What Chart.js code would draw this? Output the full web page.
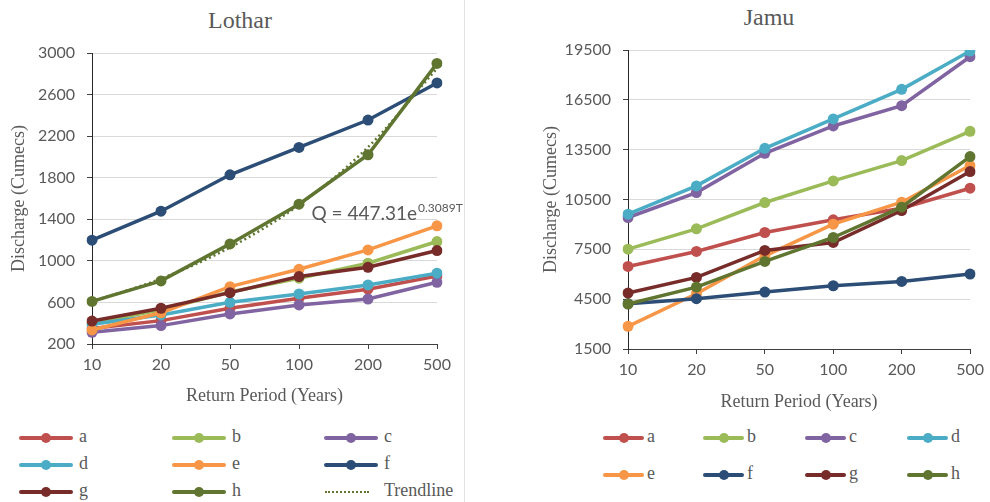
<!DOCTYPE html>
<html lang="en">
<head>
<meta charset="UTF-8">
<title>Discharge vs return period</title>
<style>
    body { margin: 0; background: #fff; }
    #page { position: relative; width: 990px; height: 502px; overflow: hidden; }
    .wrap { position: absolute; top: 0; }
    .ttl { position: absolute; font-family: "Liberation Serif", serif; font-size: 24px; color: #595959; transform: translateX(-50%); white-space: nowrap; }
    .divider { position: absolute; left: 464px; top: 0; width: 1px; height: 502px; background: #e3e3e3; }
    .leg { position: absolute; height: 20px; font-family: "Liberation Serif", serif; font-size: 18px; color: #595959; }
    .leg .ln { position: absolute; top: 8px; height: 4px; border-radius: 2px; }
    .leg .dot { position: absolute; top: 5px; width: 10px; height: 10px; border-radius: 50%; }
    .leg .dash { position: absolute; top: 9px; height: 0; border-top: 2.5px dotted #5f7530; }
    .leg span { position: absolute; top: -2px; white-space: nowrap; }
</style>
</head>
<body>
<div id="page">
    <div class="ttl" style="left:240px; top:7px;">Lothar</div>
    <div class="ttl" style="left:769px; top:4px;">Jamu</div>
    <div class="divider"></div>
    <div class="wrap" style="left:0; width:480px; height:420px;"><canvas id="lothar" width="480" height="420"></canvas></div>
    <div class="wrap" style="left:530px; width:460px; height:420px;"><canvas id="jamu" width="460" height="420"></canvas></div>
    <div id="legend"></div>
</div>

<script src="https://cdn.jsdelivr.net/npm/chart.js"></script>
<script>
// return periods (years)
var periods = ['10', '20', '50', '100', '200', '500'];
var seriesNames = ['a', 'b', 'c', 'd', 'e', 'f', 'g', 'h'];
var colors = ['#c0504d', '#9bbb59', '#8064a2', '#4bacc6', '#f79646', '#2c4d75', '#772c2a', '#5f7530'];

// Lothar discharge (cumecs)
var lotharA = [350, 425, 543, 640, 727, 855];
var lotharB = [400, 530, 700, 833, 977, 1186];
var lotharC = [312, 377, 489, 576, 633, 794];
var lotharD = [390, 480, 601, 682, 768, 881];
var lotharE = [335, 500, 752, 919, 1105, 1337];
var lotharF = [1199, 1478, 1828, 2091, 2355, 2712];
var lotharG = [421, 544, 694, 849, 938, 1099];
var lotharH = [610, 807, 1163, 1545, 2021, 2900];
var lotharTrend = [609, 829, 1129, 1538, 2094, 2852];
var trendLabel = 'Q = 447.31e';
var trendExp = '0.3089T';

// Jamu discharge (cumecs)
var jamuA = [6470, 7372, 8514, 9276, 9977, 11180];
var jamuB = [7512, 8734, 10318, 11620, 12843, 14607];
var jamuC = [9416, 10919, 13284, 14927, 16149, 19095];
var jamuD = [9616, 11320, 13584, 15348, 17131, 19436];
var jamuE = [2863, 4827, 7111, 9015, 10338, 12542];
var jamuF = [4225, 4526, 4927, 5308, 5568, 6009];
var jamuG = [4867, 5809, 7432, 7913, 9837, 12182];
var jamuH = [4205, 5227, 6771, 8213, 10037, 13083];

var lotharTicks = { min: 200, max: 3000, step: 400 };
var jamuTicks = { min: 1500, max: 19500, step: 3000 };

var serif = '"Liberation Serif", serif';
var grey = '#595959';

function makeSets(lists) {
    return lists.map(function(d, i) {
        return {
            label: seriesNames[i],
            data: d,
            borderColor: colors[i],
            backgroundColor: colors[i],
            borderWidth: 3.5,
            pointRadius: 5.5,
            pointBorderWidth: 0,
            pointHoverRadius: 5.5,
            order: 10 - i
        };
    });
}

function makeOptions(t, yWidth, padRight, xHeight, yTitlePad, xTitlePad) {
    return {
        responsive: false,
        animation: false,
        layout: { padding: { top: t.top, right: padRight, bottom: 0, left: 0 } },
        plugins: { legend: { display: false }, tooltip: { enabled: false } },
        scales: {
            x: {
                grid: { drawOnChartArea: false, tickLength: 5, tickColor: '#404040' },
                border: { color: '#404040', width: 1 },
                ticks: { color: grey, font: { family: 'Lato', size: 16 }, padding: 6, maxRotation: 0 },
                title: { display: true, text: 'Return Period (Years)', color: grey,
                         font: { family: serif, size: 18 }, padding: { top: 0, bottom: xTitlePad } },
                afterFit: function(s) { s.height = xHeight; }
            },
            y: {
                min: t.min, max: t.max,
                grid: { color: '#d9d9d9', tickLength: 5, tickColor: '#404040' },
                border: { color: '#262626', width: 1 },
                ticks: { stepSize: t.step, color: grey, font: { family: 'Lato', size: 16 }, padding: 12,
                         callback: function(v) { return String(v); } },
                title: { display: true, text: 'Discharge (Cumecs)', color: grey,
                         font: { family: serif, size: 18 }, padding: { top: yTitlePad, bottom: 0 } },
                afterFit: function(s) { s.width = yWidth; }
            }
        }
    };
}

// equation next to the trendline
var eqPlugin = {
    id: 'eq',
    afterDatasetsDraw: function(chart) {
        var ctx = chart.ctx;
        var x = chart.scales.x.getPixelForValue(3.18);
        var y = chart.scales.y.getPixelForValue(1395);
        ctx.save();
        ctx.fillStyle = grey;
        ctx.textBaseline = 'alphabetic';
        ctx.font = '19px Lato';
        ctx.fillText(trendLabel, x, y);
        var w = ctx.measureText(trendLabel).width;
        ctx.font = '12px Lato';
        ctx.fillText(trendExp, x + w + 1, y - 8);
        ctx.restore();
    }
};

var lotharSets = makeSets([lotharA, lotharB, lotharC, lotharD, lotharE, lotharF, lotharG, lotharH]);
lotharSets.push({
    label: 'Trendline',
    data: lotharTrend,
    borderColor: '#5f7530',
    borderWidth: 2.5,
    borderDash: [2, 3],
    pointRadius: 0,
    cubicInterpolationMode: 'monotone',
    order: 0
});

lotharTicks.top = 53;
jamuTicks.top = 50;

new Chart(document.getElementById('lothar'), {
    type: 'line',
    data: { labels: periods, datasets: lotharSets },
    options: makeOptions(lotharTicks, 92, 43, 76, 8, 13),
    plugins: [eqPlugin]
});

new Chart(document.getElementById('jamu'), {
    type: 'line',
    data: { labels: periods, datasets: makeSets([jamuA, jamuB, jamuC, jamuD, jamuE, jamuF, jamuG, jamuH]) },
    options: makeOptions(jamuTicks, 98, 17, 71, 10, 7)
});

// legends as html, same look as the line+marker entries
function legendItem(name, color, x, y, lineW, textX) {
    var el = document.createElement('div');
    el.className = 'leg';
    el.style.left = x + 'px';
    el.style.top = (y - 10) + 'px';
    if (color) {
        el.innerHTML = '<div class="ln" style="left:0;width:' + lineW + 'px;background:' + color + '"></div>' +
            '<div class="dot" style="left:' + (lineW / 2 - 5) + 'px;background:' + color + '"></div>';
    } else {
        el.innerHTML = '<div class="dash" style="left:1px;width:' + (lineW - 10) + 'px"></div>';
    }
    var s = document.createElement('span');
    s.style.left = textX + 'px';
    s.textContent = name;
    el.appendChild(s);
    document.getElementById('legend').appendChild(el);
}

var leftCols = [19, 172, 324];
var leftRows = [438, 465, 492];
for (var i = 0; i < 8; i++) {
    legendItem(seriesNames[i], colors[i], leftCols[i % 3], leftRows[Math.floor(i / 3)], 54, 60);
}
legendItem('Trendline', null, leftCols[2], leftRows[2], 54, 60);

var rightCols = [603, 703, 805, 907];
var rightRows = [438, 475];
for (var j = 0; j < 8; j++) {
    legendItem(seriesNames[j], colors[j], rightCols[j % 4], rightRows[Math.floor(j / 4)], 41, 44);
}
</script>
</body>
</html>
